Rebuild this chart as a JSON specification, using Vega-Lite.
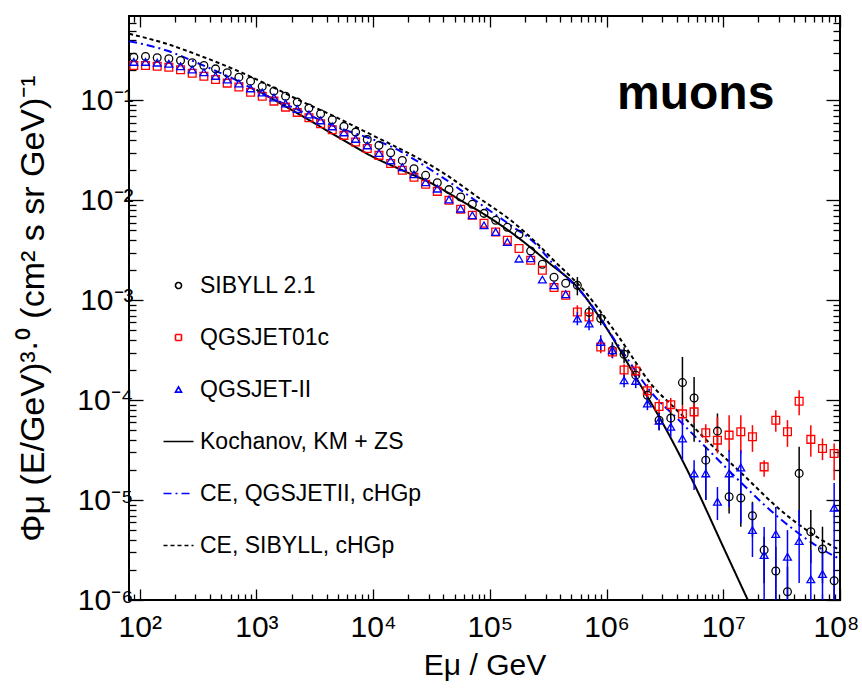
{
  "$schema": "https://vega.github.io/schema/vega-lite/v6.json",
  "autosize": {"type": "none"},
  "padding": {"left": 129, "top": 16, "right": 22, "bottom": 97},
  "width": 711,
  "height": 584,
  "background": "white",
  "config": {
    "view": {"stroke": "black", "strokeWidth": 2},
    "font": "Liberation Sans",
    "axis": {
      "domain": false, "grid": false, "tickColor": "black", "tickWidth": 1.3,
      "labelFont": "Liberation Sans", "labelFontSize": 30, "labelColor": "black",
      "titleFont": "Liberation Sans", "titleFontWeight": "normal", "titleColor": "black",
      "labelOverlap": false, "labelFlush": false, "labelBound": false
    }
  },
  "datasets": {
    "curves": [
      {"s": "Kochanov, KM + ZS", "E": 1000, "f": 0.128},
      {"s": "Kochanov, KM + ZS", "E": 1778, "f": 0.0871},
      {"s": "Kochanov, KM + ZS", "E": 3162, "f": 0.0589},
      {"s": "Kochanov, KM + ZS", "E": 5623, "f": 0.0398},
      {"s": "Kochanov, KM + ZS", "E": 10000, "f": 0.0272},
      {"s": "Kochanov, KM + ZS", "E": 17783, "f": 0.0200},
      {"s": "Kochanov, KM + ZS", "E": 31623, "f": 0.0148},
      {"s": "Kochanov, KM + ZS", "E": 56234, "f": 0.0100},
      {"s": "Kochanov, KM + ZS", "E": 100000, "f": 0.00668},
      {"s": "Kochanov, KM + ZS", "E": 177828, "f": 0.00417},
      {"s": "Kochanov, KM + ZS", "E": 316228, "f": 0.00240},
      {"s": "Kochanov, KM + ZS", "E": 562341, "f": 0.00135},
      {"s": "Kochanov, KM + ZS", "E": 1e6, "f": 5.25e-4},
      {"s": "Kochanov, KM + ZS", "E": 1.778e6, "f": 1.70e-4},
      {"s": "Kochanov, KM + ZS", "E": 3.162e6, "f": 5.37e-5},
      {"s": "Kochanov, KM + ZS", "E": 5.623e6, "f": 1.45e-5},
      {"s": "Kochanov, KM + ZS", "E": 1e7, "f": 3.39e-6},
      {"s": "Kochanov, KM + ZS", "E": 1.778e7, "f": 7.94e-7},

      {"s": "CE, QGSJETII, cHGp", "E": 81.3, "f": 0.392},
      {"s": "CE, QGSJETII, cHGp", "E": 170, "f": 0.316},
      {"s": "CE, QGSJETII, cHGp", "E": 324, "f": 0.233},
      {"s": "CE, QGSJETII, cHGp", "E": 631, "f": 0.165},
      {"s": "CE, QGSJETII, cHGp", "E": 1202, "f": 0.112},
      {"s": "CE, QGSJETII, cHGp", "E": 2344, "f": 0.0794},
      {"s": "CE, QGSJETII, cHGp", "E": 4467, "f": 0.0562},
      {"s": "CE, QGSJETII, cHGp", "E": 8710, "f": 0.0430},
      {"s": "CE, QGSJETII, cHGp", "E": 14791, "f": 0.0339},
      {"s": "CE, QGSJETII, cHGp", "E": 21878, "f": 0.0262},
      {"s": "CE, QGSJETII, cHGp", "E": 41687, "f": 0.0162},
      {"s": "CE, QGSJETII, cHGp", "E": 81283, "f": 0.00933},
      {"s": "CE, QGSJETII, cHGp", "E": 154882, "f": 0.00550},
      {"s": "CE, QGSJETII, cHGp", "E": 245471, "f": 0.00369},
      {"s": "CE, QGSJETII, cHGp", "E": 338844, "f": 0.00240},
      {"s": "CE, QGSJETII, cHGp", "E": 660693, "f": 0.00107},
      {"s": "CE, QGSJETII, cHGp", "E": 1.259e6, "f": 3.55e-4},
      {"s": "CE, QGSJETII, cHGp", "E": 2.455e6, "f": 1.17e-4},
      {"s": "CE, QGSJETII, cHGp", "E": 4.169e6, "f": 6.31e-5},
      {"s": "CE, QGSJETII, cHGp", "E": 7.943e6, "f": 2.95e-5},
      {"s": "CE, QGSJETII, cHGp", "E": 1.585e7, "f": 1.32e-5},
      {"s": "CE, QGSJETII, cHGp", "E": 2.951e7, "f": 6.76e-6},
      {"s": "CE, QGSJETII, cHGp", "E": 8.913e7, "f": 2.75e-6},
      {"s": "CE, QGSJETII, cHGp", "E": 1e8, "f": 2.57e-6},

      {"s": "CE, SIBYLL, cHGp", "E": 81.3, "f": 0.465},
      {"s": "CE, SIBYLL, cHGp", "E": 170, "f": 0.369},
      {"s": "CE, SIBYLL, cHGp", "E": 324, "f": 0.282},
      {"s": "CE, SIBYLL, cHGp", "E": 631, "f": 0.207},
      {"s": "CE, SIBYLL, cHGp", "E": 1202, "f": 0.147},
      {"s": "CE, SIBYLL, cHGp", "E": 2344, "f": 0.100},
      {"s": "CE, SIBYLL, cHGp", "E": 4467, "f": 0.0708},
      {"s": "CE, SIBYLL, cHGp", "E": 8710, "f": 0.0482},
      {"s": "CE, SIBYLL, cHGp", "E": 14791, "f": 0.0355},
      {"s": "CE, SIBYLL, cHGp", "E": 21878, "f": 0.0282},
      {"s": "CE, SIBYLL, cHGp", "E": 41687, "f": 0.0182},
      {"s": "CE, SIBYLL, cHGp", "E": 81283, "f": 0.0105},
      {"s": "CE, SIBYLL, cHGp", "E": 154882, "f": 0.00617},
      {"s": "CE, SIBYLL, cHGp", "E": 263027, "f": 0.00355},
      {"s": "CE, SIBYLL, cHGp", "E": 338844, "f": 0.00263},
      {"s": "CE, SIBYLL, cHGp", "E": 660693, "f": 0.00120},
      {"s": "CE, SIBYLL, cHGp", "E": 1.259e6, "f": 4.37e-4},
      {"s": "CE, SIBYLL, cHGp", "E": 2.455e6, "f": 1.41e-4},
      {"s": "CE, SIBYLL, cHGp", "E": 4.169e6, "f": 7.59e-5},
      {"s": "CE, SIBYLL, cHGp", "E": 7.943e6, "f": 3.55e-5},
      {"s": "CE, SIBYLL, cHGp", "E": 1.585e7, "f": 1.66e-5},
      {"s": "CE, SIBYLL, cHGp", "E": 2.951e7, "f": 8.32e-6},
      {"s": "CE, SIBYLL, cHGp", "E": 8.913e7, "f": 3.39e-6},
      {"s": "CE, SIBYLL, cHGp", "E": 1e8, "f": 3.16e-6}
    ],
    "points": [
      {"s": "SIBYLL 2.1", "E": 89.1, "f": 0.271},
      {"s": "SIBYLL 2.1", "E": 112.2, "f": 0.275},
      {"s": "SIBYLL 2.1", "E": 141.3, "f": 0.267},
      {"s": "SIBYLL 2.1", "E": 177.8, "f": 0.261},
      {"s": "SIBYLL 2.1", "E": 223.9, "f": 0.251},
      {"s": "SIBYLL 2.1", "E": 281.8, "f": 0.238},
      {"s": "SIBYLL 2.1", "E": 354.8, "f": 0.224},
      {"s": "SIBYLL 2.1", "E": 446.7, "f": 0.207},
      {"s": "SIBYLL 2.1", "E": 562.3, "f": 0.189},
      {"s": "SIBYLL 2.1", "E": 707.9, "f": 0.171},
      {"s": "SIBYLL 2.1", "E": 891.3, "f": 0.156},
      {"s": "SIBYLL 2.1", "E": 1122, "f": 0.138},
      {"s": "SIBYLL 2.1", "E": 1413, "f": 0.124},
      {"s": "SIBYLL 2.1", "E": 1778, "f": 0.110},
      {"s": "SIBYLL 2.1", "E": 2239, "f": 0.0962},
      {"s": "SIBYLL 2.1", "E": 2818, "f": 0.0838},
      {"s": "SIBYLL 2.1", "E": 3548, "f": 0.0736},
      {"s": "SIBYLL 2.1", "E": 4467, "f": 0.0641},
      {"s": "SIBYLL 2.1", "E": 5623, "f": 0.0550},
      {"s": "SIBYLL 2.1", "E": 7079, "f": 0.0482},
      {"s": "SIBYLL 2.1", "E": 8913, "f": 0.0407},
      {"s": "SIBYLL 2.1", "E": 11220, "f": 0.0355},
      {"s": "SIBYLL 2.1", "E": 14130, "f": 0.0300},
      {"s": "SIBYLL 2.1", "E": 17780, "f": 0.0251},
      {"s": "SIBYLL 2.1", "E": 22390, "f": 0.0207},
      {"s": "SIBYLL 2.1", "E": 28180, "f": 0.0178},
      {"s": "SIBYLL 2.1", "E": 35480, "f": 0.0150},
      {"s": "SIBYLL 2.1", "E": 44670, "f": 0.0128},
      {"s": "SIBYLL 2.1", "E": 56230, "f": 0.0108},
      {"s": "SIBYLL 2.1", "E": 70790, "f": 0.00912},
      {"s": "SIBYLL 2.1", "E": 89130, "f": 0.00741},
      {"s": "SIBYLL 2.1", "E": 112200, "f": 0.00631},
      {"s": "SIBYLL 2.1", "E": 141300, "f": 0.00537},
      {"s": "SIBYLL 2.1", "E": 177800, "f": 0.00457},
      {"s": "SIBYLL 2.1", "E": 223900, "f": 0.00311},
      {"s": "SIBYLL 2.1", "E": 281800, "f": 0.00229},
      {"s": "SIBYLL 2.1", "E": 354800, "f": 0.00170},
      {"s": "SIBYLL 2.1", "E": 446700, "f": 0.00148},
      {"s": "SIBYLL 2.1", "E": 562300, "f": 0.00141, "lo": 0.00112, "hi": 0.00171},
      {"s": "SIBYLL 2.1", "E": 707900, "f": 7.59e-4, "lo": 6.61e-4, "hi": 8.71e-4},
      {"s": "SIBYLL 2.1", "E": 891300, "f": 6.56e-4, "lo": 5.62e-4, "hi": 7.41e-4},
      {"s": "SIBYLL 2.1", "E": 1.122e6, "f": 3.16e-4, "lo": 2.75e-4, "hi": 3.80e-4},
      {"s": "SIBYLL 2.1", "E": 1.413e6, "f": 2.88e-4, "lo": 2.34e-4, "hi": 3.39e-4},
      {"s": "SIBYLL 2.1", "E": 1.778e6, "f": 1.78e-4, "lo": 1.51e-4, "hi": 2.09e-4},
      {"s": "SIBYLL 2.1", "E": 2.239e6, "f": 1.12e-4, "lo": 9.12e-5, "hi": 1.32e-4},
      {"s": "SIBYLL 2.1", "E": 2.818e6, "f": 6.31e-5, "lo": 5.01e-5, "hi": 7.59e-5},
      {"s": "SIBYLL 2.1", "E": 3.548e6, "f": 6.61e-5, "lo": 5.37e-5, "hi": 7.94e-5},
      {"s": "SIBYLL 2.1", "E": 4.467e6, "f": 1.50e-4, "lo": 8.91e-5, "hi": 2.71e-4},
      {"s": "SIBYLL 2.1", "E": 5.623e6, "f": 1.05e-4, "lo": 3.83e-5, "hi": 1.71e-4},
      {"s": "SIBYLL 2.1", "E": 7.079e6, "f": 2.51e-5, "lo": 1.00e-5, "hi": 3.41e-5},
      {"s": "SIBYLL 2.1", "E": 8.913e6, "f": 4.90e-5, "lo": 3.16e-5, "hi": 7.36e-5},
      {"s": "SIBYLL 2.1", "E": 1.122e7, "f": 1.08e-5, "lo": 7.36e-6, "hi": 1.85e-5},
      {"s": "SIBYLL 2.1", "E": 1.413e7, "f": 1.05e-5, "lo": 5.41e-6, "hi": 1.85e-5},
      {"s": "SIBYLL 2.1", "E": 1.778e7, "f": 6.97e-6, "lo": 4.30e-6, "hi": 9.62e-6},
      {"s": "SIBYLL 2.1", "E": 2.239e7, "f": 3.16e-6, "lo": 1.47e-6, "hi": 4.30e-6},
      {"s": "SIBYLL 2.1", "E": 2.818e7, "f": 1.95e-6, "lo": 9.33e-7, "hi": 3.41e-6},
      {"s": "SIBYLL 2.1", "E": 3.548e7, "f": 1.21e-6, "lo": 6.76e-7, "hi": 2.15e-6},
      {"s": "SIBYLL 2.1", "E": 4.467e7, "f": 1.85e-5, "lo": 5.85e-6, "hi": 3.41e-5},
      {"s": "SIBYLL 2.1", "E": 5.623e7, "f": 4.82e-6, "lo": 2.33e-6, "hi": 7.94e-6},
      {"s": "SIBYLL 2.1", "E": 7.079e7, "f": 3.24e-6, "lo": 1.47e-6, "hi": 5.41e-6},
      {"s": "SIBYLL 2.1", "E": 8.913e7, "f": 1.56e-6, "lo": 7.94e-7, "hi": 2.93e-6},

      {"s": "QGSJET01c", "E": 89.1, "f": 0.224},
      {"s": "QGSJET01c", "E": 112.2, "f": 0.224},
      {"s": "QGSJET01c", "E": 141.3, "f": 0.220},
      {"s": "QGSJET01c", "E": 177.8, "f": 0.215},
      {"s": "QGSJET01c", "E": 223.9, "f": 0.203},
      {"s": "QGSJET01c", "E": 281.8, "f": 0.187},
      {"s": "QGSJET01c", "E": 354.8, "f": 0.175},
      {"s": "QGSJET01c", "E": 446.7, "f": 0.162},
      {"s": "QGSJET01c", "E": 562.3, "f": 0.149},
      {"s": "QGSJET01c", "E": 707.9, "f": 0.136},
      {"s": "QGSJET01c", "E": 891.3, "f": 0.121},
      {"s": "QGSJET01c", "E": 1122, "f": 0.110},
      {"s": "QGSJET01c", "E": 1413, "f": 0.0984},
      {"s": "QGSJET01c", "E": 1778, "f": 0.0857},
      {"s": "QGSJET01c", "E": 2239, "f": 0.0759},
      {"s": "QGSJET01c", "E": 2818, "f": 0.0671},
      {"s": "QGSJET01c", "E": 3548, "f": 0.0585},
      {"s": "QGSJET01c", "E": 4467, "f": 0.0509},
      {"s": "QGSJET01c", "E": 5623, "f": 0.0447},
      {"s": "QGSJET01c", "E": 7079, "f": 0.0383},
      {"s": "QGSJET01c", "E": 8913, "f": 0.0331},
      {"s": "QGSJET01c", "E": 11220, "f": 0.0282},
      {"s": "QGSJET01c", "E": 14130, "f": 0.0234},
      {"s": "QGSJET01c", "E": 17780, "f": 0.0200},
      {"s": "QGSJET01c", "E": 22390, "f": 0.0170},
      {"s": "QGSJET01c", "E": 28180, "f": 0.0145},
      {"s": "QGSJET01c", "E": 35480, "f": 0.0123},
      {"s": "QGSJET01c", "E": 44670, "f": 0.0100},
      {"s": "QGSJET01c", "E": 56230, "f": 0.00813},
      {"s": "QGSJET01c", "E": 70790, "f": 0.00708},
      {"s": "QGSJET01c", "E": 89130, "f": 0.00589},
      {"s": "QGSJET01c", "E": 112200, "f": 0.00482},
      {"s": "QGSJET01c", "E": 141300, "f": 0.00398},
      {"s": "QGSJET01c", "E": 177800, "f": 0.00329},
      {"s": "QGSJET01c", "E": 223900, "f": 0.00251},
      {"s": "QGSJET01c", "E": 281800, "f": 0.00200},
      {"s": "QGSJET01c", "E": 354800, "f": 0.00134},
      {"s": "QGSJET01c", "E": 446700, "f": 0.00112},
      {"s": "QGSJET01c", "E": 562300, "f": 7.64e-4, "lo": 6.46e-4, "hi": 8.91e-4},
      {"s": "QGSJET01c", "E": 707900, "f": 6.81e-4, "lo": 5.89e-4, "hi": 7.94e-4},
      {"s": "QGSJET01c", "E": 891300, "f": 3.41e-4, "lo": 2.95e-4, "hi": 3.98e-4},
      {"s": "QGSJET01c", "E": 1.122e6, "f": 3.04e-4, "lo": 2.63e-4, "hi": 3.55e-4},
      {"s": "QGSJET01c", "E": 1.413e6, "f": 2.00e-4, "lo": 1.74e-4, "hi": 2.29e-4},
      {"s": "QGSJET01c", "E": 1.778e6, "f": 1.96e-4, "lo": 1.66e-4, "hi": 2.29e-4},
      {"s": "QGSJET01c", "E": 2.239e6, "f": 1.24e-4, "lo": 1.07e-4, "hi": 1.45e-4},
      {"s": "QGSJET01c", "E": 2.818e6, "f": 8.65e-5, "lo": 7.41e-5, "hi": 1.02e-4},
      {"s": "QGSJET01c", "E": 3.548e6, "f": 9.02e-5, "lo": 7.59e-5, "hi": 1.05e-4},
      {"s": "QGSJET01c", "E": 4.467e6, "f": 7.29e-5, "lo": 5.62e-5, "hi": 8.91e-5},
      {"s": "QGSJET01c", "E": 5.623e6, "f": 7.64e-5, "lo": 5.89e-5, "hi": 9.33e-5},
      {"s": "QGSJET01c", "E": 7.079e6, "f": 4.71e-5, "lo": 3.72e-5, "hi": 5.75e-5},
      {"s": "QGSJET01c", "E": 8.913e6, "f": 3.98e-5, "lo": 2.93e-5, "hi": 6.81e-5},
      {"s": "QGSJET01c", "E": 1.122e7, "f": 4.47e-5, "lo": 3.04e-5, "hi": 7.08e-5},
      {"s": "QGSJET01c", "E": 1.413e7, "f": 4.82e-5, "lo": 2.93e-5, "hi": 7.08e-5},
      {"s": "QGSJET01c", "E": 1.778e7, "f": 4.30e-5, "lo": 3.04e-5, "hi": 5.62e-5},
      {"s": "QGSJET01c", "E": 2.239e7, "f": 2.15e-5, "lo": 1.71e-5, "hi": 2.51e-5},
      {"s": "QGSJET01c", "E": 2.818e7, "f": 6.31e-5, "lo": 4.82e-5, "hi": 7.94e-5},
      {"s": "QGSJET01c", "E": 3.548e7, "f": 4.82e-5, "lo": 3.41e-5, "hi": 6.31e-5},
      {"s": "QGSJET01c", "E": 4.467e7, "f": 9.77e-5, "lo": 7.08e-5, "hi": 1.26e-4},
      {"s": "QGSJET01c", "E": 5.623e7, "f": 4.05e-5, "lo": 2.71e-5, "hi": 5.62e-5},
      {"s": "QGSJET01c", "E": 7.079e7, "f": 3.29e-5, "lo": 2.51e-5, "hi": 4.14e-5},
      {"s": "QGSJET01c", "E": 8.913e7, "f": 2.93e-5, "lo": 1.58e-5, "hi": 3.69e-5},

      {"s": "QGSJET-II", "E": 89.1, "f": 0.243},
      {"s": "QGSJET-II", "E": 112.2, "f": 0.243},
      {"s": "QGSJET-II", "E": 141.3, "f": 0.239},
      {"s": "QGSJET-II", "E": 177.8, "f": 0.233},
      {"s": "QGSJET-II", "E": 223.9, "f": 0.220},
      {"s": "QGSJET-II", "E": 281.8, "f": 0.204},
      {"s": "QGSJET-II", "E": 354.8, "f": 0.191},
      {"s": "QGSJET-II", "E": 446.7, "f": 0.176},
      {"s": "QGSJET-II", "E": 562.3, "f": 0.162},
      {"s": "QGSJET-II", "E": 707.9, "f": 0.148},
      {"s": "QGSJET-II", "E": 891.3, "f": 0.132},
      {"s": "QGSJET-II", "E": 1122, "f": 0.120},
      {"s": "QGSJET-II", "E": 1413, "f": 0.107},
      {"s": "QGSJET-II", "E": 1778, "f": 0.0933},
      {"s": "QGSJET-II", "E": 2239, "f": 0.0822},
      {"s": "QGSJET-II", "E": 2818, "f": 0.0724},
      {"s": "QGSJET-II", "E": 3548, "f": 0.0631},
      {"s": "QGSJET-II", "E": 4467, "f": 0.0550},
      {"s": "QGSJET-II", "E": 5623, "f": 0.0479},
      {"s": "QGSJET-II", "E": 7079, "f": 0.0412},
      {"s": "QGSJET-II", "E": 8913, "f": 0.0355},
      {"s": "QGSJET-II", "E": 11220, "f": 0.0297},
      {"s": "QGSJET-II", "E": 14130, "f": 0.0251},
      {"s": "QGSJET-II", "E": 17780, "f": 0.0215},
      {"s": "QGSJET-II", "E": 22390, "f": 0.0182},
      {"s": "QGSJET-II", "E": 28180, "f": 0.0152},
      {"s": "QGSJET-II", "E": 35480, "f": 0.0131},
      {"s": "QGSJET-II", "E": 44670, "f": 0.0102},
      {"s": "QGSJET-II", "E": 56230, "f": 0.00826},
      {"s": "QGSJET-II", "E": 70790, "f": 0.00708},
      {"s": "QGSJET-II", "E": 89130, "f": 0.00562},
      {"s": "QGSJET-II", "E": 112200, "f": 0.00482},
      {"s": "QGSJET-II", "E": 141300, "f": 0.00383},
      {"s": "QGSJET-II", "E": 177800, "f": 0.00261},
      {"s": "QGSJET-II", "E": 223900, "f": 0.00263},
      {"s": "QGSJET-II", "E": 281800, "f": 0.00161},
      {"s": "QGSJET-II", "E": 354800, "f": 0.00141},
      {"s": "QGSJET-II", "E": 446700, "f": 0.00115},
      {"s": "QGSJET-II", "E": 562300, "f": 6.56e-4, "lo": 5.62e-4, "hi": 7.59e-4},
      {"s": "QGSJET-II", "E": 707900, "f": 5.85e-4, "lo": 5.01e-4, "hi": 6.61e-4},
      {"s": "QGSJET-II", "E": 891300, "f": 3.83e-4, "lo": 3.16e-4, "hi": 4.47e-4},
      {"s": "QGSJET-II", "E": 1.122e6, "f": 3.16e-4, "lo": 2.63e-4, "hi": 3.63e-4},
      {"s": "QGSJET-II", "E": 1.413e6, "f": 1.58e-4, "lo": 1.35e-4, "hi": 1.82e-4},
      {"s": "QGSJET-II", "E": 1.778e6, "f": 1.56e-4, "lo": 1.32e-4, "hi": 1.78e-4},
      {"s": "QGSJET-II", "E": 2.239e6, "f": 9.27e-5, "lo": 7.94e-5, "hi": 1.07e-4},
      {"s": "QGSJET-II", "E": 2.818e6, "f": 6.21e-5, "lo": 5.01e-5, "hi": 7.41e-5},
      {"s": "QGSJET-II", "E": 3.548e6, "f": 5.41e-5, "lo": 4.27e-5, "hi": 6.61e-5},
      {"s": "QGSJET-II", "E": 4.467e6, "f": 4.14e-5, "lo": 2.51e-5, "hi": 6.76e-5},
      {"s": "QGSJET-II", "E": 5.623e6, "f": 1.85e-5, "lo": 1.26e-5, "hi": 2.51e-5},
      {"s": "QGSJET-II", "E": 7.079e6, "f": 1.85e-5, "lo": 1.00e-5, "hi": 3.16e-5},
      {"s": "QGSJET-II", "E": 8.913e6, "f": 9.62e-6, "lo": 6.31e-6, "hi": 1.35e-5},
      {"s": "QGSJET-II", "E": 1.122e7, "f": 1.85e-5, "lo": 8.51e-6, "hi": 3.16e-5},
      {"s": "QGSJET-II", "E": 1.413e7, "f": 2.12e-5, "lo": 5.89e-6, "hi": 3.16e-5},
      {"s": "QGSJET-II", "E": 1.778e7, "f": 5.01e-6, "lo": 2.69e-6, "hi": 9.33e-6},
      {"s": "QGSJET-II", "E": 2.239e7, "f": 2.82e-6, "lo": 5.0e-7, "hi": 5.37e-6},
      {"s": "QGSJET-II", "E": 2.818e7, "f": 4.57e-6, "lo": 5.0e-7, "hi": 8.51e-6},
      {"s": "QGSJET-II", "E": 3.548e7, "f": 2.71e-6, "lo": 5.0e-7, "hi": 5.01e-6},
      {"s": "QGSJET-II", "E": 4.467e7, "f": 3.89e-6, "lo": 1.48e-6, "hi": 7.94e-6},
      {"s": "QGSJET-II", "E": 5.623e7, "f": 1.61e-6, "lo": 5.0e-7, "hi": 3.16e-6},
      {"s": "QGSJET-II", "E": 7.079e7, "f": 1.82e-6, "lo": 5.0e-7, "hi": 3.16e-6},
      {"s": "QGSJET-II", "E": 8.913e7, "f": 8.38e-6, "lo": 5.0e-7, "hi": 1.48e-5}
    ],
    "labels": [
      {"t": "muons", "E": 5.8e6, "f": 0.083}
    ]
  },
  "resolve": {"axis": {"x": "independent", "y": "independent"}},
  "layer": [
    {
      "data": {"name": "curves"},
      "mark": {"type": "line", "strokeWidth": 2, "interpolate": "monotone", "clip": true},
      "encoding": {
        "x": {
          "field": "E", "type": "quantitative",
          "scale": {"type": "log", "domain": [81, 1e8]},
          "axis": {
            "orient": "bottom", "labels": false, "title": null, "tickSize": -6,
            "values": [90, 200, 300, 400, 500, 600, 700, 800, 900, 2000, 3000, 4000, 5000, 6000, 7000, 8000, 9000, 20000, 30000, 40000, 50000, 60000, 70000, 80000, 90000, 200000, 300000, 400000, 500000, 600000, 700000, 800000, 900000, 2e6, 3e6, 4e6, 5e6, 6e6, 7e6, 8e6, 9e6, 2e7, 3e7, 4e7, 5e7, 6e7, 7e7, 8e7, 9e7]
          }
        },
        "y": {
          "field": "f", "type": "quantitative",
          "scale": {"type": "log", "domain": [1e-6, 0.7]},
          "axis": {
            "orient": "left", "labels": false, "title": null, "tickSize": -7,
            "values": [2e-6, 3e-6, 4e-6, 5e-6, 6e-6, 7e-6, 8e-6, 9e-6, 2e-5, 3e-5, 4e-5, 5e-5, 6e-5, 7e-5, 8e-5, 9e-5, 2e-4, 3e-4, 4e-4, 5e-4, 6e-4, 7e-4, 8e-4, 9e-4, 0.002, 0.003, 0.004, 0.005, 0.006, 0.007, 0.008, 0.009, 0.02, 0.03, 0.04, 0.05, 0.06, 0.07, 0.08, 0.09, 0.2, 0.3, 0.4, 0.5, 0.6]
          }
        },
        "color": {
          "field": "s", "type": "nominal", "title": null,
          "scale": {
            "domain": ["SIBYLL 2.1", "QGSJET01c", "QGSJET-II", "Kochanov, KM + ZS", "CE, QGSJETII, cHGp", "CE, SIBYLL, cHGp"],
            "range": ["#000000", "#ff0000", "#0000ff", "#000000", "#0000ff", "#000000"]
          },
          "legend": {
            "orient": "none", "legendX": 38, "legendY": 258, "padding": 0,
            "labelFont": "Liberation Sans", "labelFontSize": 23, "labelColor": "black", "labelLimit": 400,
            "symbolSize": 36, "symbolStrokeWidth": 1.6, "rowPadding": 28, "labelOffset": 10,
            "symbolFillColor": "transparent"
          }
        },
        "strokeDash": {
          "field": "s", "type": "nominal", "title": null,
          "scale": {
            "domain": ["SIBYLL 2.1", "QGSJET01c", "QGSJET-II", "Kochanov, KM + ZS", "CE, QGSJETII, cHGp", "CE, SIBYLL, cHGp"],
            "range": [[1, 0], [1, 0], [1, 0], [1, 0], [8, 4, 2, 4], [4, 3]]
          },
          "legend": {
            "orient": "none", "legendX": 38, "legendY": 258, "padding": 0,
            "labelFont": "Liberation Sans", "labelFontSize": 23, "labelColor": "black", "labelLimit": 400,
            "symbolSize": 36, "symbolStrokeWidth": 1.6, "rowPadding": 28, "labelOffset": 10
          }
        }
      }
    },
    {
      "data": {"name": "points"},
      "transform": [{"filter": "isValid(datum.lo)"}],
      "mark": {"type": "rule", "strokeWidth": 1.5, "clip": true},
      "encoding": {
        "x": {
          "field": "E", "type": "quantitative",
          "scale": {"type": "log", "domain": [81, 1e8]},
          "axis": {"orient": "top", "labels": false, "title": null, "tickSize": -11, "values": [100, 1000, 10000, 100000, 1e6, 1e7, 1e8]}
        },
        "y": {
          "field": "lo", "type": "quantitative",
          "scale": {"type": "log", "domain": [1e-6, 0.7]},
          "axis": {"orient": "right", "labels": false, "title": null, "tickSize": -14, "values": [1e-6, 1e-5, 1e-4, 0.001, 0.01, 0.1]}
        },
        "y2": {"field": "hi"},
        "color": {"field": "s", "type": "nominal", "title": null}
      }
    },
    {
      "data": {"name": "points"},
      "mark": {"type": "point", "filled": false, "size": 60, "strokeWidth": 1.3, "opacity": 1, "clip": true},
      "encoding": {
        "x": {
          "field": "E", "type": "quantitative",
          "scale": {"type": "log", "domain": [81, 1e8]},
          "axis": {
            "orient": "bottom", "title": "Eμ / GeV", "titleFontSize": 30, "titlePadding": 8,
            "tickSize": -11, "labelPadding": 23, "values": [100, 1000, 10000, 100000, 1e6, 1e7, 1e8],
            "labelAlign": {"condition": {"test": "datum.value > 5e7", "value": "right"}, "value": "center"},
            "labelOffset": {"condition": {"test": "datum.value > 5e7", "value": 19}, "value": 0},
            "labelExpr": "['10²','10³','10⁴','10⁵','10⁶','10⁷','10⁸'][round(log(datum.value)/LN10)-2]"
          }
        },
        "y": {
          "field": "f", "type": "quantitative",
          "scale": {"type": "log", "domain": [1e-6, 0.7]},
          "axis": {
            "orient": "left", "title": "Φμ (E/GeV)³·⁰ (cm² s sr GeV)⁻¹", "titleFontSize": 34, "titlePadding": 26,
            "tickSize": -14, "labelPadding": 10, "values": [1e-6, 1e-5, 1e-4, 0.001, 0.01, 0.1],
            "labelExpr": "['10⁻⁶','10⁻⁵','10⁻⁴','10⁻³','10⁻²','10⁻¹'][round(log(datum.value)/LN10)+6]"
          }
        },
        "color": {"field": "s", "type": "nominal", "title": null},
        "shape": {
          "field": "s", "type": "nominal", "title": null,
          "scale": {
            "domain": ["SIBYLL 2.1", "QGSJET01c", "QGSJET-II", "Kochanov, KM + ZS", "CE, QGSJETII, cHGp", "CE, SIBYLL, cHGp"],
            "range": ["circle", "square", "triangle-up", "M-5,0H5", "M-5,0H5", "M-5,0H5"]
          },
          "legend": {
            "orient": "none", "legendX": 38, "legendY": 258, "padding": 0,
            "labelFont": "Liberation Sans", "labelFontSize": 23, "labelColor": "black", "labelLimit": 400,
            "symbolSize": 36, "symbolStrokeWidth": 1.6, "rowPadding": 28, "labelOffset": 10
          }
        }
      }
    },
    {
      "data": {"name": "labels"},
      "mark": {"type": "text", "font": "Liberation Sans", "fontSize": 48, "fontWeight": "bold", "align": "center", "baseline": "alphabetic", "color": "black"},
      "encoding": {
        "x": {
          "field": "E", "type": "quantitative",
          "scale": {"type": "log", "domain": [81, 1e8]},
          "axis": {
            "orient": "top", "labels": false, "title": null, "tickSize": -6,
            "values": [90, 200, 300, 400, 500, 600, 700, 800, 900, 2000, 3000, 4000, 5000, 6000, 7000, 8000, 9000, 20000, 30000, 40000, 50000, 60000, 70000, 80000, 90000, 200000, 300000, 400000, 500000, 600000, 700000, 800000, 900000, 2e6, 3e6, 4e6, 5e6, 6e6, 7e6, 8e6, 9e6, 2e7, 3e7, 4e7, 5e7, 6e7, 7e7, 8e7, 9e7]
          }
        },
        "y": {
          "field": "f", "type": "quantitative",
          "scale": {"type": "log", "domain": [1e-6, 0.7]},
          "axis": {
            "orient": "right", "labels": false, "title": null, "tickSize": -7,
            "values": [2e-6, 3e-6, 4e-6, 5e-6, 6e-6, 7e-6, 8e-6, 9e-6, 2e-5, 3e-5, 4e-5, 5e-5, 6e-5, 7e-5, 8e-5, 9e-5, 2e-4, 3e-4, 4e-4, 5e-4, 6e-4, 7e-4, 8e-4, 9e-4, 0.002, 0.003, 0.004, 0.005, 0.006, 0.007, 0.008, 0.009, 0.02, 0.03, 0.04, 0.05, 0.06, 0.07, 0.08, 0.09, 0.2, 0.3, 0.4, 0.5, 0.6]
          }
        },
        "text": {"field": "t", "type": "nominal"}
      }
    }
  ]
}
